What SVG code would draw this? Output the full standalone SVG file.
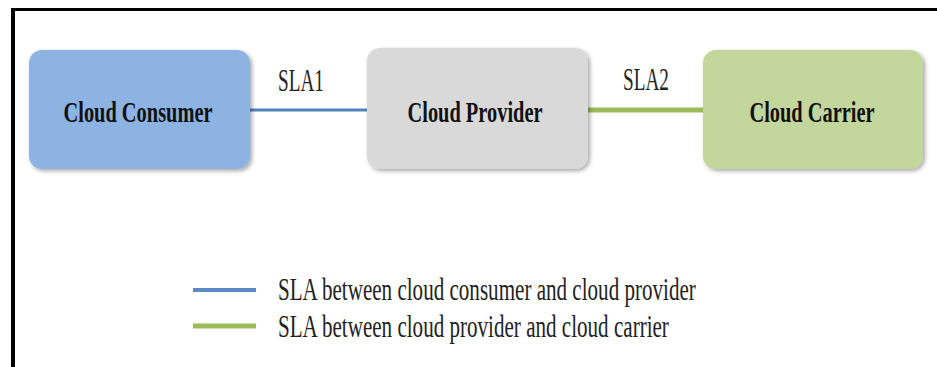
<svg xmlns="http://www.w3.org/2000/svg" width="937" height="367" viewBox="0 0 937 367">
  <defs>
    <filter id="shadow" x="-10%" y="-10%" width="120%" height="125%">
      <feGaussianBlur in="SourceAlpha" stdDeviation="2"/>
      <feOffset dx="2" dy="2" result="b"/>
      <feComponentTransfer><feFuncA type="linear" slope="0.35"/></feComponentTransfer>
      <feMerge><feMergeNode/><feMergeNode in="SourceGraphic"/></feMerge>
    </filter>
    <style>
      .node { filter: url(#shadow); }
      .lbl { font-family: 'Liberation Serif', 'DejaVu Serif', serif; font-weight: bold; font-size: 30px; fill: #111; text-anchor: middle; }
      .sla { font-family: 'Liberation Serif', 'DejaVu Serif', serif; font-size: 31px; fill: #222; text-anchor: middle; }
      .leg { font-family: 'Liberation Serif', 'DejaVu Serif', serif; font-size: 31px; fill: #222; }
      .blue { stroke: #4f81bd; }
      .green { stroke: #9bbb59; }
    </style>
  </defs>
  <rect width="937" height="367" fill="#ffffff"/>
  <g id="frame" fill="none" stroke="#000">
    <line x1="13" y1="8" x2="13" y2="367" stroke-width="4"/>
    <line x1="11" y1="9.5" x2="937" y2="9.5" stroke-width="3"/>
  </g>
  <g id="connectors">
    <line class="blue" x1="250" y1="110" x2="367" y2="110" stroke-width="3"/>
    <line class="green" x1="588" y1="110" x2="703" y2="110" stroke-width="5"/>
    <text class="sla" transform="translate(301 91) scale(0.62 1)">SLA1</text>
    <text class="sla" transform="translate(646 90) scale(0.62 1)">SLA2</text>
  </g>
  <g id="cloud-consumer">
    <rect class="node" x="29" y="50" width="221" height="119" rx="13" fill="#8db3e2"/>
    <text class="lbl" transform="translate(138 122) scale(0.68 1)">Cloud Consumer</text>
  </g>
  <g id="cloud-provider">
    <rect class="node" x="367" y="48" width="221" height="121" rx="13" fill="#d9d9d9"/>
    <text class="lbl" transform="translate(475 122) scale(0.68 1)">Cloud Provider</text>
  </g>
  <g id="cloud-carrier">
    <rect class="node" x="703" y="50" width="220" height="119" rx="13" fill="#c3d69b"/>
    <text class="lbl" transform="translate(812 122) scale(0.68 1)">Cloud Carrier</text>
  </g>
  <g id="legend">
    <line x1="193" y1="290" x2="256" y2="290" stroke-width="4" stroke="#5b8ac6"/>
    <line class="green" x1="193" y1="326" x2="256" y2="326" stroke-width="5"/>
    <text class="leg" transform="translate(278 300) scale(0.68 1)">SLA between cloud consumer and cloud provider</text>
    <text class="leg" transform="translate(278 337) scale(0.68 1)">SLA between cloud provider and cloud carrier</text>
  </g>
</svg>
